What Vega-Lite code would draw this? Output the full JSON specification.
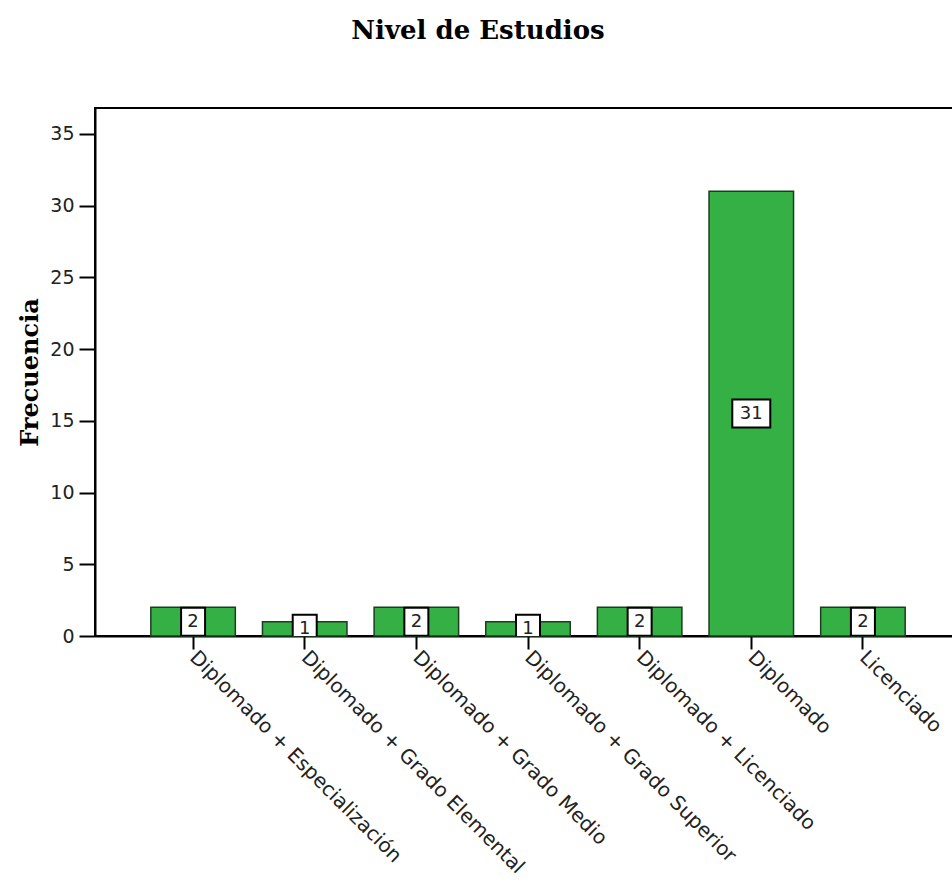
{
  "$schema": "https://vega.github.io/schema/vega-lite/v6.json",
  "autosize": {"type": "none"},
  "padding": {"left": 95, "top": 108, "right": 0, "bottom": 246},
  "width": 866,
  "height": 528,
  "background": "white",
  "title": {
    "text": "Nivel de Estudios",
    "font": "DejaVu Serif",
    "fontSize": 26,
    "fontWeight": "bold",
    "color": "black",
    "anchor": "middle",
    "frame": "group",
    "dx": -50,
    "offset": 64
  },
  "data": {
    "values": [
      {"Nivel": "Diplomado + Especialización", "Frecuencia": 2},
      {"Nivel": "Diplomado + Grado Elemental", "Frecuencia": 1},
      {"Nivel": "Diplomado + Grado Medio", "Frecuencia": 2},
      {"Nivel": "Diplomado + Grado Superior", "Frecuencia": 1},
      {"Nivel": "Diplomado + Licenciado", "Frecuencia": 2},
      {"Nivel": "Diplomado", "Frecuencia": 31},
      {"Nivel": "Licenciado", "Frecuencia": 2}
    ]
  },
  "config": {
    "view": {"stroke": "black", "strokeWidth": 2},
    "axis": {"grid": false}
  },
  "encoding": {
    "x": {
      "field": "Nivel",
      "type": "nominal",
      "sort": null,
      "scale": {"paddingInner": 0.243, "paddingOuter": 0.5},
      "axis": {
        "title": null,
        "labelAngle": 45,
        "labelAlign": "left",
        "labelBaseline": "middle",
        "labelFont": "DejaVu Sans",
        "labelFontSize": 20,
        "labelColor": "#222",
        "labelPadding": 5,
        "tickSize": 13,
        "tickWidth": 2,
        "tickColor": "black",
        "domainColor": "black",
        "domainWidth": 2,
        "labelLimit": 0
      }
    }
  },
  "layer": [
    {
      "mark": {"type": "bar", "color": "#35b045", "stroke": "#1c3d20", "strokeWidth": 1.5},
      "encoding": {
        "y": {
          "field": "Frecuencia",
          "type": "quantitative",
          "scale": {"domain": [0, 36.8], "nice": false},
          "axis": {
            "title": "Frecuencia",
            "titleFont": "DejaVu Serif",
            "titleFontSize": 24,
            "titleFontWeight": "bold",
            "titleColor": "black",
            "titlePadding": 7,
            "values": [0, 5, 10, 15, 20, 25, 30, 35],
            "labelFont": "DejaVu Sans",
            "labelFontSize": 19,
            "labelColor": "#222",
            "labelPadding": 5,
            "tickSize": 16,
            "tickWidth": 2,
            "tickColor": "black",
            "domainColor": "black",
            "domainWidth": 2
          }
        }
      }
    },
    {
      "layer": [
        {
          "mark": {"type": "tick", "thickness": 28, "color": "white", "fill": "white", "stroke": "black", "strokeWidth": 2, "opacity": 1, "clip": true},
          "encoding": {
            "y": {"field": "Frecuencia", "type": "quantitative", "scale": {"domain": [0, 73.6], "nice": false}, "axis": null},
            "size": {"condition": {"test": "datum.Frecuencia > 9", "value": 38}, "value": 24}
          }
        },
        {
          "mark": {"type": "text", "font": "DejaVu Sans", "fontSize": 18, "color": "#222", "baseline": "middle", "align": "center", "clip": true},
          "encoding": {
            "y": {"field": "Frecuencia", "type": "quantitative", "scale": {"domain": [0, 73.6], "nice": false}, "axis": null},
            "text": {"field": "Frecuencia", "type": "quantitative"}
          }
        }
      ]
    }
  ],
  "resolve": {"scale": {"y": "independent"}}
}
